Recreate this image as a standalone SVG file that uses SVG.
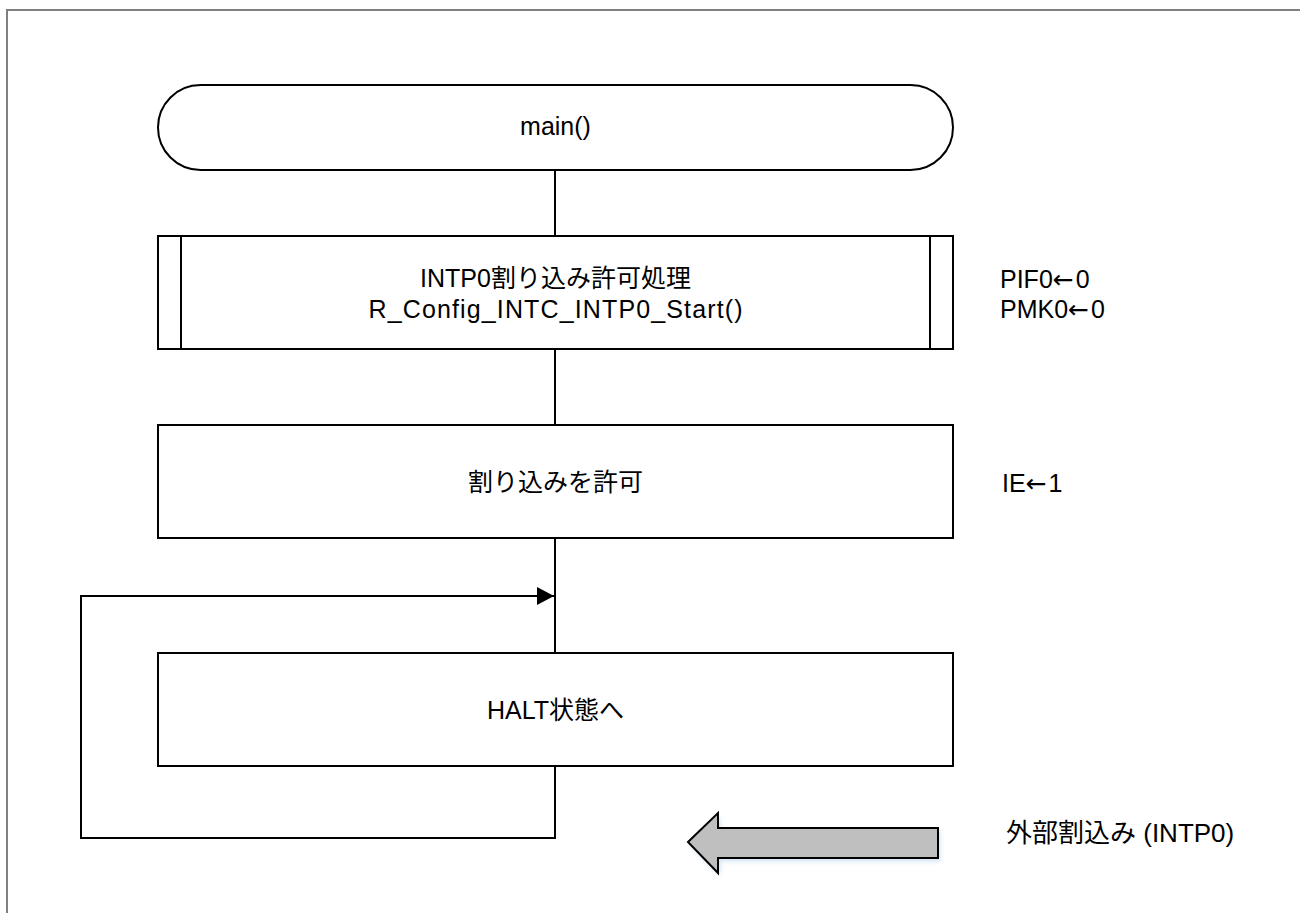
<svg xmlns="http://www.w3.org/2000/svg" width="1300" height="913" viewBox="0 0 1300 913">
<defs>
<style>
.box{fill:#fff;stroke:#000;stroke-width:2}
.ln{fill:none;stroke:#000;stroke-width:2}
.t{font-family:"Liberation Sans","Noto Sans CJK JP",sans-serif;font-size:25px;fill:#000}
.c{text-anchor:middle}
.ar{font-family:"DejaVu Sans",sans-serif;letter-spacing:2px}
</style>
<marker id="ah" markerWidth="18" markerHeight="18" refX="17" refY="9" orient="auto" markerUnits="userSpaceOnUse" viewBox="0 0 18 18">
<path d="M0,0 L17,9 L0,18 z" fill="#000"/>
</marker>
<filter id="sh" x="-10%" y="-30%" width="120%" height="160%">
<feGaussianBlur stdDeviation="2.5"/>
</filter>
</defs>
<rect width="1300" height="913" fill="#fff"/>
<path d="M7,913 V10 H1300" fill="none" stroke="#808080" stroke-width="2"/>
<g id="connectors">
<path class="ln" d="M555,170 V236"/>
<path class="ln" d="M555,349 V425"/>
<path class="ln" d="M555,538 V653"/>
<path class="ln" d="M555,766 V838 H81 V596 H554" marker-end="url(#ah)"/>
</g>
<g id="main">
<rect class="box" x="158" y="85" width="795" height="85" rx="42.5"/>
<text class="t c" x="555.5" y="135">main()</text>
</g>
<g id="intp0start">
<rect class="box" x="158" y="236" width="795" height="113"/>
<path class="ln" d="M181,236 V349 M930,236 V349"/>
<text class="t c" x="555.5" y="287">INTP0割り込み許可処理</text>
<text class="t c" x="555.5" y="318" textLength="374" lengthAdjust="spacing">R_Config_INTC_INTP0_Start()</text>
</g>
<g id="note1">
<text class="t" x="1000" y="288">PIF0<tspan class="ar">←</tspan>0</text>
<text class="t" x="1000" y="318">PMK0<tspan class="ar">←</tspan>0</text>
</g>
<g id="enable">
<rect class="box" x="158" y="425" width="795" height="113"/>
<text class="t c" x="555.5" y="491">割り込みを許可</text>
</g>
<g id="note2">
<text class="t" x="1002" y="492">IE<tspan class="ar">←</tspan>1</text>
</g>
<g id="halt">
<rect class="box" x="158" y="653" width="795" height="113"/>
<text class="t c" x="555.5" y="719">HALT状態へ</text>
</g>
<g id="interrupt">
<path d="M688,842 L718,813 V828 H938 V858 H718 V873 Z" fill="#9fc3e6" opacity="0.5" filter="url(#sh)" transform="translate(2,3)"/>
<path d="M688,842 L718,813 V828 H938 V858 H718 V873 Z" fill="#bfbfbf" stroke="#000" stroke-width="2"/>
<text class="t" x="1006" y="842" style="font-size:26px">外部割込み (INTP0)</text>
</g>
</svg>
